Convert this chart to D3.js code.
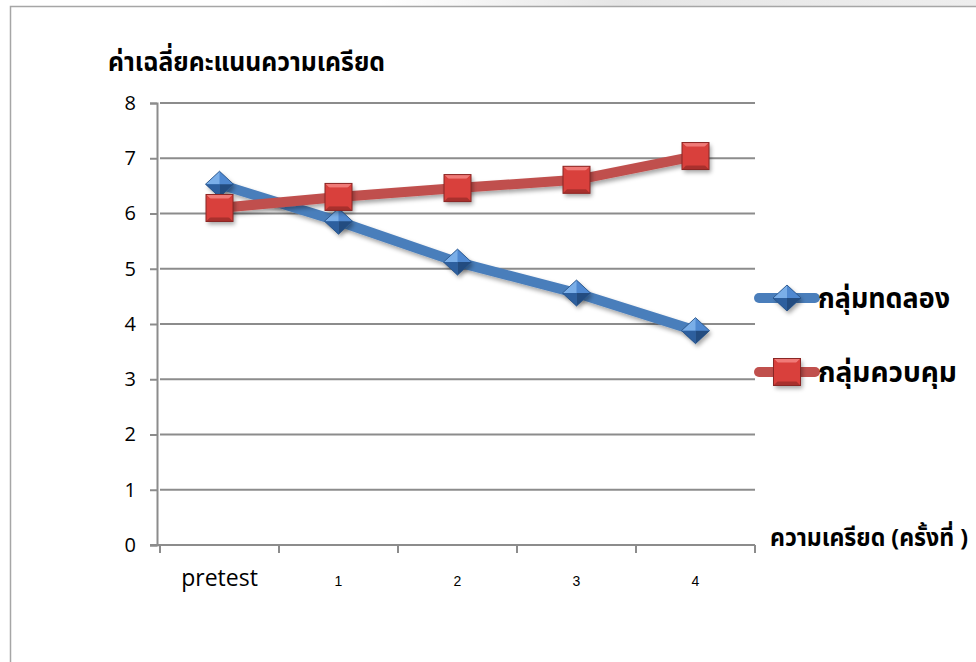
<!DOCTYPE html>
<html>
<head>
<meta charset="utf-8">
<script src="https://cdn.jsdelivr.net/npm/d3@7"></script>
<style>
  body { margin: 0; background: #fff; }
  svg { display: block; }
</style>
</head>
<body>
<div id="chart"></div>
<script>
// data
const categories = ["pretest", "1", "2", "3", "4"];
const experimentValues = [6.53, 5.86, 5.12, 4.56, 3.88];
const controlValues = [6.10, 6.30, 6.46, 6.61, 7.04];
const yTicks = [0, 1, 2, 3, 4, 5, 6, 7, 8];
const seriesNames = ["กลุ่มทดลอง", "กลุ่มควบคุม"];

const thaiFont = "'Noto Sans Thai', 'Noto Serif Thai', 'Noto Sans', sans-serif";

const W = 976, H = 662;
const svg = d3.select("#chart").append("svg")
    .attr("width", W).attr("height", H);

const defs = svg.append("defs");
const shadow = defs.append("filter").attr("id", "shadow")
    .attr("x", "-30%").attr("y", "-30%").attr("width", "170%").attr("height", "170%");
shadow.append("feDropShadow")
    .attr("dx", 2).attr("dy", 3).attr("stdDeviation", 2)
    .attr("flood-color", "#000").attr("flood-opacity", 0.35);

// faint page shadow along the top right
const topGrad = defs.append("linearGradient").attr("id", "topShade")
    .attr("x1", 0).attr("x2", 1).attr("y1", 0).attr("y2", 0);
topGrad.append("stop").attr("offset", "0%").attr("stop-color", "#e6e6e6").attr("stop-opacity", 0);
topGrad.append("stop").attr("offset", "40%").attr("stop-color", "#e6e6e6").attr("stop-opacity", 1);
topGrad.append("stop").attr("offset", "100%").attr("stop-color", "#eeeeee").attr("stop-opacity", 1);
svg.append("rect")
    .attr("x", 380).attr("y", 0).attr("width", W - 380).attr("height", 6)
    .attr("fill", "url(#topShade)");

// page frame
svg.append("rect")
    .attr("x", 10.5).attr("y", 6.5)
    .attr("width", W).attr("height", H)
    .attr("fill", "none").attr("stroke", "#a6a6a6").attr("stroke-width", 1.5);

// scales
const x = d3.scaleBand().domain(categories).range([160, 755]);
const y = d3.scaleLinear().domain([0, 8]).range([545, 103]);

// gridlines
svg.append("g").selectAll("line")
    .data(yTicks.filter(d => d > 0))
    .enter().append("line")
    .attr("x1", 160).attr("x2", 755)
    .attr("y1", d => y(d)).attr("y2", d => y(d))
    .attr("stroke", "#8c8c8c").attr("stroke-width", 2);

// y axis
const yAxis = svg.append("g")
    .attr("transform", "translate(157,0)")
    .call(d3.axisLeft(y).tickValues(yTicks).tickSize(7).tickPadding(14));
yAxis.select(".domain").attr("stroke", "#8c8c8c").attr("stroke-width", 2);
yAxis.selectAll(".tick line").attr("stroke", "#8c8c8c").attr("stroke-width", 2);
yAxis.selectAll("text")
    .style("font-family", "'Open Sans', sans-serif")
    .style("font-size", "20px").attr("fill", "#000");

// x axis
const xAxis = svg.append("g")
    .attr("transform", "translate(0,545)")
    .call(d3.axisBottom(x).tickSize(0));
xAxis.select(".domain").remove();
xAxis.append("line")
    .attr("x1", 150).attr("x2", 755)
    .attr("stroke", "#8c8c8c").attr("stroke-width", 2);
xAxis.selectAll(".edge-tick")
    .data(categories.map(c => x(c)).concat([x.range()[1]]))
    .enter().append("line")
    .attr("class", "edge-tick")
    .attr("x1", d => d).attr("x2", d => d)
    .attr("y1", 0).attr("y2", 8)
    .attr("stroke", "#8c8c8c").attr("stroke-width", 2);
xAxis.selectAll(".tick text")
    .attr("fill", "#000")
    .attr("y", 41).attr("dy", 0)
    .style("font-family", d => d === "pretest" ? "'Open Sans', sans-serif" : "'Liberation Sans', Arial, sans-serif")
    .style("font-size", d => d === "pretest" ? "23px" : "14px");

// axis titles
svg.append("text")
    .attr("x", 108).attr("y", 71)
    .attr("textLength", 277).attr("lengthAdjust", "spacingAndGlyphs")
    .style("font-family", thaiFont).style("font-weight", "bold")
    .style("font-size", "27px")
    .text("ค่าเฉลี่ยคะแนนความเครียด");

svg.append("text")
    .attr("x", 770).attr("y", 546)
    .attr("textLength", 198).attr("lengthAdjust", "spacingAndGlyphs")
    .style("font-family", thaiFont).style("font-weight", "bold")
    .style("font-size", "24px")
    .text("ความเครียด (ครั้งที่ )");

// series
const series = [
    { name: seriesNames[0], values: experimentValues, color: "#4a7ebb", marker: "diamond", textLen: 132,
      light: "#7aaee8", mid: "#4f88d0", dark: "#2d5f9e", darker: "#234c80" },
    { name: seriesNames[1], values: controlValues, color: "#c0504d", marker: "square", textLen: 139,
      light: "#f07a77", mid: "#d9403c", dark: "#a8302d", darker: "#8a2624" }
];

const line = d3.line()
    .x((d, i) => x(categories[i]) + x.bandwidth() / 2)
    .y(d => y(d));

function drawMarker(g, s) {
    if (s.marker === "diamond") {
        const r = 14, h = 13;
        g.append("path").attr("d", `M0,${-h}L${r},0L0,${h}L${-r},0Z`)
            .attr("fill", s.mid).attr("filter", "url(#shadow)");
        g.append("path").attr("d", `M0,${-h}L${r},0L0,0Z`).attr("fill", s.mid);
        g.append("path").attr("d", `M0,${-h}L${-r},0L0,0Z`).attr("fill", s.light);
        g.append("path").attr("d", `M${-r},0L0,${h}L0,0Z`).attr("fill", s.dark);
        g.append("path").attr("d", `M${r},0L0,${h}L0,0Z`).attr("fill", s.darker);
        g.append("path").attr("d", `M0,${-h}L${r},0L0,${h}L${-r},0Z`)
            .attr("fill", "none").attr("stroke", s.darker).attr("stroke-width", 0.8);
    } else {
        const r = 13.5;
        g.append("rect").attr("x", -r).attr("y", -r).attr("width", 2 * r).attr("height", 2 * r)
            .attr("fill", s.mid).attr("filter", "url(#shadow)");
        g.append("path").attr("d", `M${-r},${-r}L${r},${-r}L0,0Z`).attr("fill", s.light);
        g.append("path").attr("d", `M${-r},${-r}L${-r},${r}L0,0Z`).attr("fill", s.mid);
        g.append("path").attr("d", `M${r},${-r}L${r},${r}L0,0Z`).attr("fill", s.mid);
        g.append("path").attr("d", `M${-r},${r}L${r},${r}L0,0Z`).attr("fill", s.dark);
        g.append("rect").attr("x", -r + 4).attr("y", -r + 4).attr("width", 2 * r - 8).attr("height", 2 * r - 8)
            .attr("fill", s.mid);
        g.append("rect").attr("x", -r).attr("y", -r).attr("width", 2 * r).attr("height", 2 * r)
            .attr("fill", "none").attr("stroke", s.darker).attr("stroke-width", 1);
    }
}

series.forEach(s => {
    svg.append("path")
        .datum(s.values)
        .attr("d", line)
        .attr("fill", "none")
        .attr("stroke", s.color)
        .attr("stroke-width", 10)
        .attr("stroke-linejoin", "round")
        .attr("filter", "url(#shadow)");
});

series.forEach(s => {
    s.values.forEach((v, i) => {
        const g = svg.append("g")
            .attr("transform", `translate(${x(categories[i]) + x.bandwidth() / 2},${y(v)})`);
        drawMarker(g, s);
    });
});

// legend
const legend = svg.append("g").attr("transform", "translate(757,298)");
series.forEach((s, i) => {
    const g = legend.append("g").attr("transform", `translate(0,${i * 74})`);
    g.append("line")
        .attr("x1", 2).attr("x2", 58)
        .attr("stroke", s.color).attr("stroke-width", 10)
        .attr("stroke-linecap", "round");
    const m = g.append("g").attr("transform", "translate(30,0)");
    drawMarker(m, s);
    g.append("text")
        .attr("x", 61).attr("y", 10)
        .attr("textLength", s.textLen).attr("lengthAdjust", "spacingAndGlyphs")
        .style("font-family", thaiFont).style("font-weight", "bold")
        .style("font-size", "28px")
        .text(s.name);
});
</script>
</body>
</html>
